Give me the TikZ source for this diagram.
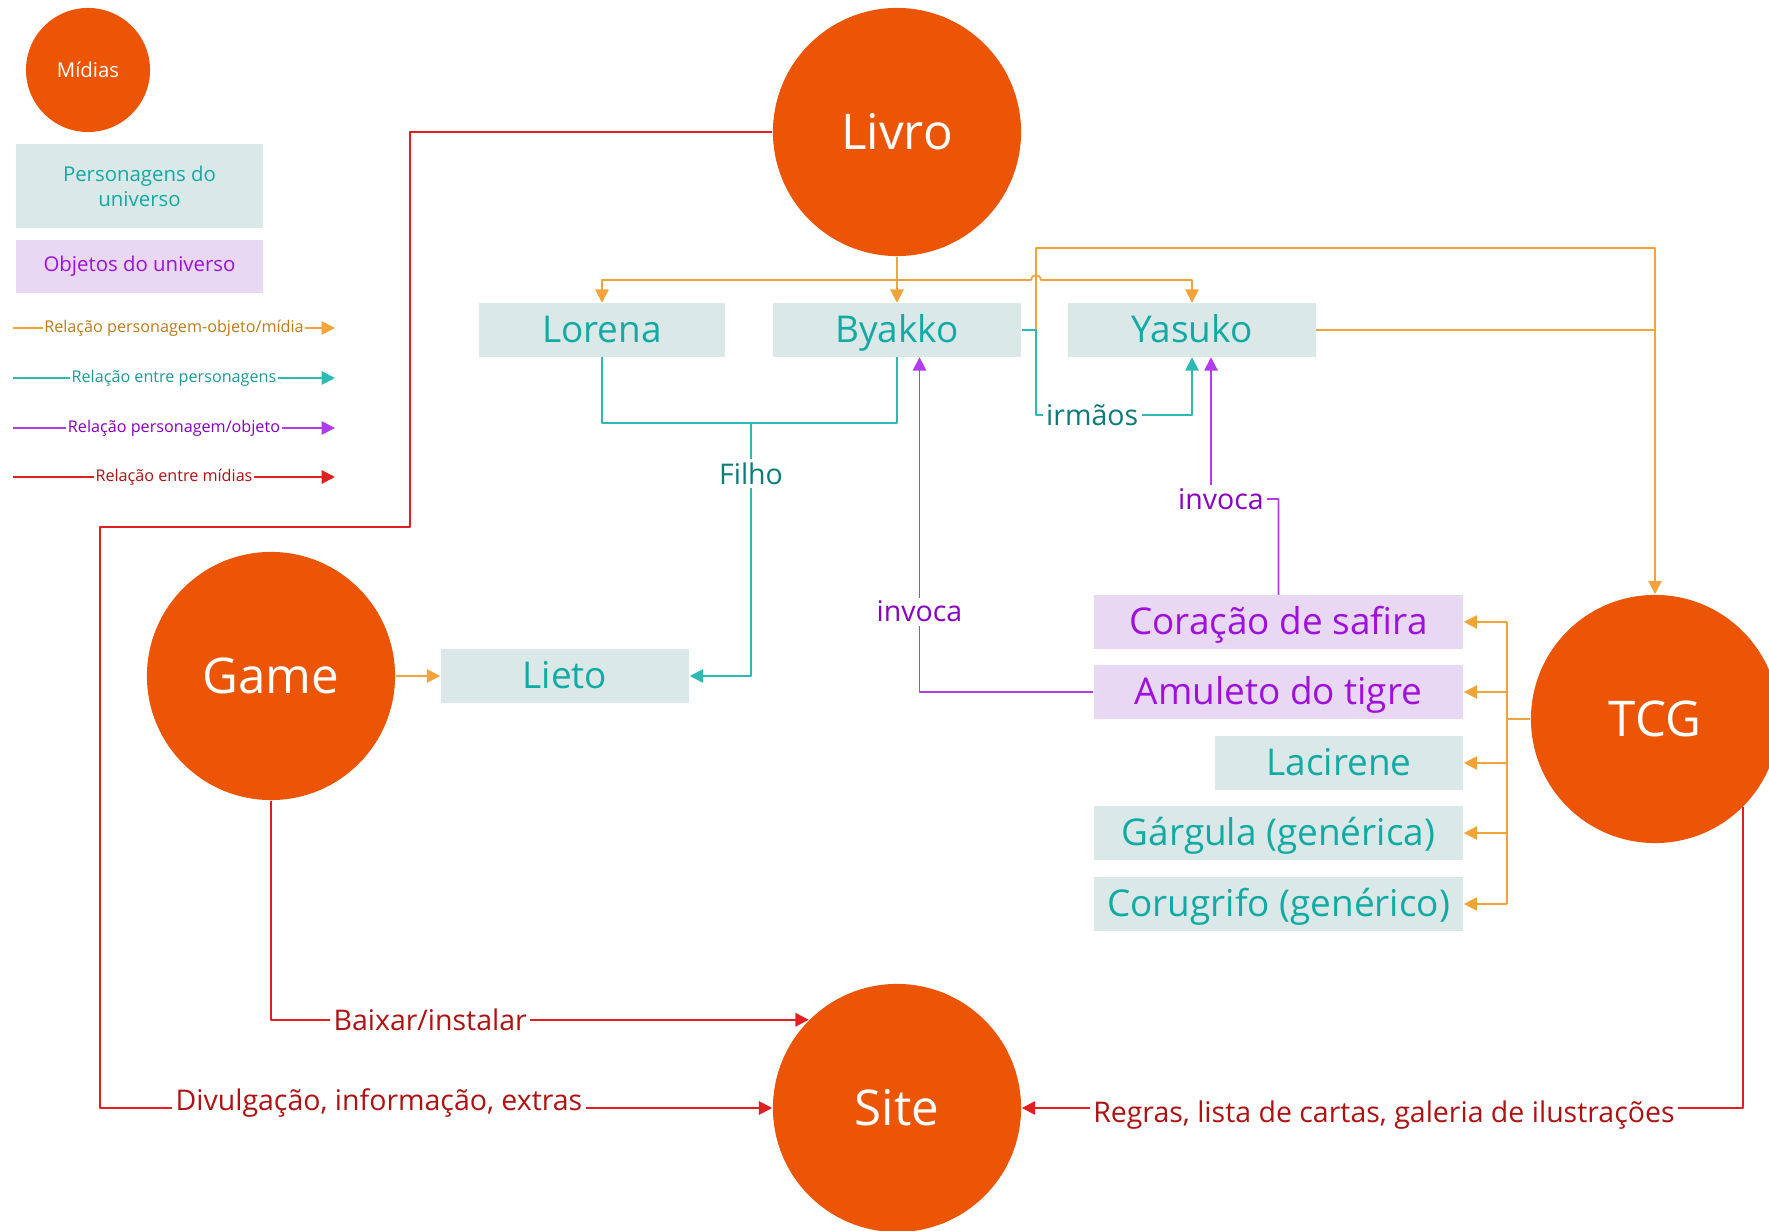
\documentclass[tikz,border=0pt]{standalone}
\usepackage{fontspec}
\setmainfont{Open Sans}
\usetikzlibrary{arrows.meta}
\definecolor{midiaor}{HTML}{EB5505}
\definecolor{persfill}{HTML}{DAE8E8}
\definecolor{perstext}{HTML}{12AAA4}
\definecolor{objfill}{HTML}{E8D8F4}
\definecolor{objtext}{HTML}{A010DC}
\definecolor{orline}{HTML}{F2A43A}
\definecolor{orlab}{HTML}{C07A1A}
\definecolor{tlline}{HTML}{2CBAB5}
\definecolor{tllab}{HTML}{0A7C7A}
\definecolor{tlleg}{HTML}{1B9C98}
\definecolor{puline}{HTML}{B23CEB}
\definecolor{pulab}{HTML}{8A00C2}
\definecolor{rdline}{HTML}{E02020}
\definecolor{rdlab}{HTML}{B01212}
\begin{document}
\begin{tikzpicture}[x=0.01cm,y=-0.01cm,line join=round,>={Triangle[length=3.8pt,width=3.8pt]},
    midia/.style={circle,fill=midiaor,text=white,minimum size=2.48cm,inner sep=0pt,font=\fontsize{14}{16}\selectfont},
    pers/.style={fill=persfill,text=perstext,minimum height=0.53cm,inner sep=0pt,text height=7.4pt,text depth=0.3pt,font=\fontsize{10.5}{12}\selectfont},
    obj/.style={pers,fill=objfill,text=objtext},
    orl/.style={draw=orline,line width=0.5pt},
    tll/.style={draw=tlline,line width=0.5pt},
    pul/.style={draw=puline,line width=0.5pt},
    rdl/.style={draw=rdline,line width=0.6pt},
    lbl/.style={fill=white,inner sep=1pt,font=\fontsize{8.1}{9.5}\selectfont},
    leg/.style={fill=white,inner sep=0.5pt,font=\fontsize{4.6}{5.5}\selectfont}]
  \useasboundingbox (0,0) rectangle (1769,1231);

  \node[midia,minimum size=1.24cm,font=\fontsize{5.8}{7}\selectfont] (midias) at (88,70) {Mídias};
  \node[pers,minimum width=2.47cm,minimum height=0.84cm,align=center,text height=,text depth=,font=\fontsize{5.8}{7.1}\selectfont] (legpers) at (139.5,186) {Personagens do\\universo};
  \node[obj,minimum width=2.47cm,text height=,text depth=,font=\fontsize{5.8}{7}\selectfont] (legobj) at (139.5,266.5) {Objetos do universo};
  \draw[orl,->] (13,328) -- node[leg,text=orlab] {Relação personagem-objeto/mídia} (335,328);
  \draw[tll,->] (13,378) -- node[leg,text=tlleg] {Relação entre personagens} (335,378);
  \draw[pul,->] (13,428) -- node[leg,text=pulab] {Relação personagem/objeto} (335,428);
  \draw[rdl,->] (13,477) -- node[leg,text=rdlab] {Relação entre mídias} (335,477);

  \node[midia] (livro) at (897,132) {Livro};
  \node[midia] (game) at (271,676) {Game};
  \node[midia] (tcg) at (1655,719) {TCG};
  \node[midia] (site) at (897,1108) {Site};
  \node[pers,minimum width=2.46cm] (lorena) at (602,330) {Lorena};
  \node[pers,minimum width=2.48cm] (byakko) at (897,330) {Byakko};
  \node[pers,minimum width=2.47cm] (yasuko) at (1192,330) {Yasuko};
  \node[pers,minimum width=2.48cm] (lieto) at (565,676) {Lieto};
  \node[obj,minimum width=3.69cm] (coracao) at (1278.5,622) {Coração de safira};
  \node[obj,minimum width=3.69cm] (amuleto) at (1278.5,692) {Amuleto do tigre};
  \node[pers,minimum width=2.48cm] (lacirene) at (1339,763) {Lacirene};
  \node[pers,minimum width=3.69cm] (gargula) at (1278.5,833) {Gárgula (genérica)};
  \node[pers,minimum width=3.69cm] (corugrifo) at (1278.5,904) {Corugrifo (genérico)};

  \coordinate (bus) at (897,280);
  \coordinate (bj) at (1036,330);
  \coordinate (tj) at (1655,248);
  \coordinate (fj) at (751,423);
  \coordinate (fan) at (1507,719);
  \coordinate (ij) at (1211,499);

  \draw[orl,->] (livro.south) -- (byakko.north);
  \draw[orl,->] (bus) -| (lorena.north);
  \draw[orl,->] (bus) -- (1031,280) arc[start angle=180,end angle=0,radius=0.05cm] -| (yasuko.north);
  \draw[orl,->] (byakko.east) -- (bj) |- (tj) -- (tcg.north);
  \draw[orl] (yasuko.east) -- (tcg.north |- yasuko.east);
  \draw[orl,every edge/.append style={orl,->}]
    (tcg.west) -- (fan) (fan |- coracao.east) edge (coracao.east)
    -- (fan |- amuleto.east) edge (amuleto.east)
    -- (fan |- lacirene.east) edge (lacirene.east)
    -- (fan |- gargula.east) edge (gargula.east)
    -- (fan |- corugrifo.east) edge (corugrifo.east);
  \draw[orl,->] (game.east) -- (lieto.west);

  \draw[tll] (lorena.south) |- (fj) -| (byakko.south);
  \draw[tll,->] (fj) |- node[lbl,text=tllab,pos=0.1] {Filho} (lieto.east);
  \draw[tll,->] (byakko.east) -- (bj) -- ++(0,85) -| node[lbl,text=tllab,pos=0.18] {irmãos} (yasuko.south);

  \draw[pul,->] (amuleto.west) -| node[lbl,text=pulab,pos=0.62] {invoca} ([xshift=0.225cm]byakko.south);
  \draw[pul,->] (coracao.north) |- (ij) -- ([xshift=0.19cm]yasuko.south);
  \node[lbl,text=pulab] (invy) at (1221,499) {invoca};

  \draw[rdl,->] (livro.west) -| (410,527) -| (100,1108) -- node[lbl,text=rdlab,pos=0.415,yshift=0.05cm] {Divulgação, informação, extras} (site.west);
  \draw[rdl,->] (game.south) |- node[lbl,text=rdlab,pos=0.648] {Baixar/instalar} (site.135);
  \draw[rdl,->] (tcg.-45) |- node[lbl,text=rdlab,pos=0.749,yshift=-0.07cm] {Regras, lista de cartas, galeria de ilustrações} (site.east);
\end{tikzpicture}
\end{document}
